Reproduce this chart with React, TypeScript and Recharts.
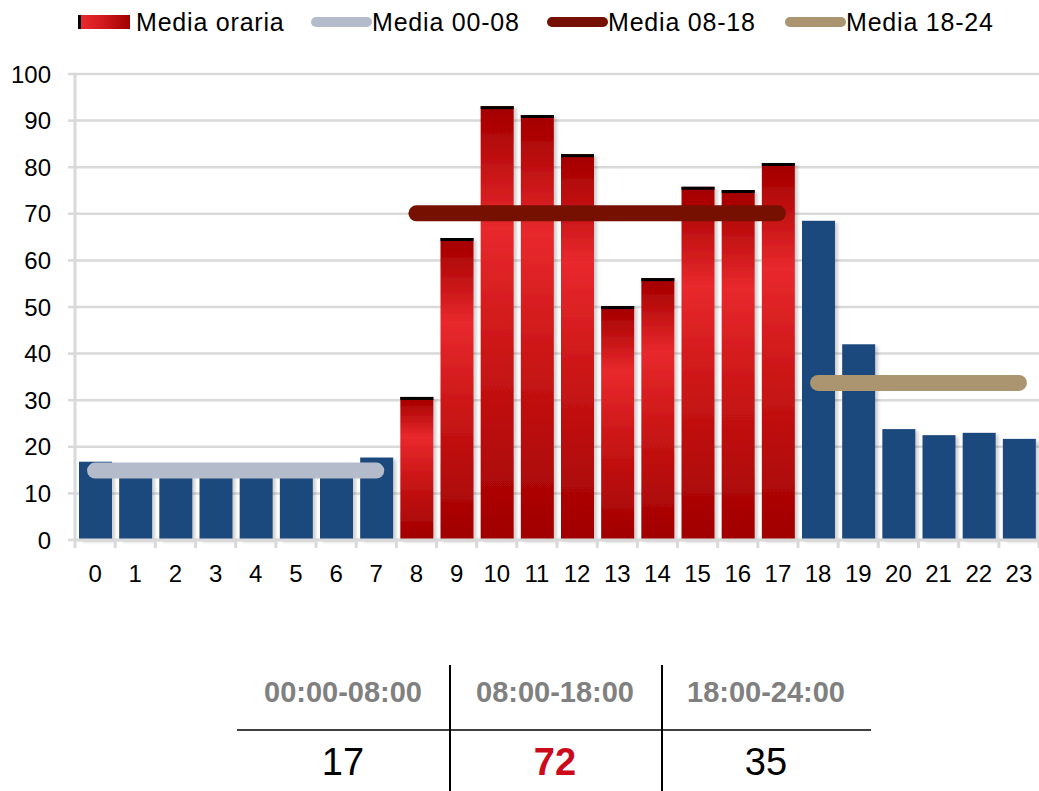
import React from "react"
import { Bar, CartesianGrid, ComposedChart, Line, XAxis, YAxis } from "recharts"

// hourly averages
const hours = [0, 1, 2, 3, 4, 5, 6, 7, 8, 9, 10, 11, 12, 13, 14, 15, 16, 17, 18, 19, 20, 21, 22, 23]
const hourlyValues = [
  16.8, 15.2, 14.8, 14.5, 14.6, 14.9, 15.3, 17.7, 30.7, 64.8, 93.1, 91.2, 82.8, 50.2, 56.2, 75.8, 75.1, 80.9,
  68.5, 42.0, 23.8, 22.5, 23.0, 21.7,
]
const bandMeans = [14.9, 70.1, 33.7]
const bandRanges = [
  [0, 7],
  [8, 17],
  [18, 23],
]
const legendNames = ["Media oraria", "Media 00-08", "Media 08-18", "Media 18-24"]
const tableHeaders = ["00:00-08:00", "08:00-18:00", "18:00-24:00"]
const tableValues = ["17", "72", "35"]
const yTicks = [0, 10, 20, 30, 40, 50, 60, 70, 80, 90, 100]

const BLUE = "#1f497d"
const LINE_COLORS = ["#b4bccb", "#761000", "#ab9570"]
const GRID = "#d9d9d9"
const FONT = "'Liberation Sans', Arial, sans-serif"

const CHART_W = 1039
const CHART_H = 600
const PLOT_LEFT = 75
const PLOT_BOTTOM = 540
const BAND = (CHART_W - PLOT_LEFT) / hours.length

const data = hours.map((h, i) => {
  const row: { [key: string]: any } = { hour: h, value: hourlyValues[i] }
  bandRanges.forEach(([a, b], k) => {
    row["m" + k] = h >= a && h <= b ? bandMeans[k] : null
  })
  return row
})

const isPeak = (h: number) => h >= 8 && h <= 17

const BarShape = (props: any) => {
  const { x, y, width, height, payload } = props
  if (height == null || height <= 0) return null
  if (!isPeak(payload.hour)) {
    return <rect x={x} y={y} width={width} height={height} fill={BLUE} filter="url(#barShadow)" />
  }
  return (
    <g filter="url(#barShadow)">
      <rect x={x} y={y} width={width} height={height} fill="url(#redBar)" />
      <rect x={x} y={y} width={width} height={3} fill="#000" />
    </g>
  )
}

const XTick = (props: any) => {
  const { x, payload, index } = props
  return (
    <g>
      <line x1={x - BAND / 2} x2={x - BAND / 2} y1={PLOT_BOTTOM} y2={PLOT_BOTTOM + 8} stroke={GRID} strokeWidth={3} />
      {index === hours.length - 1 && (
        <line x1={x + BAND / 2} x2={x + BAND / 2} y1={PLOT_BOTTOM} y2={PLOT_BOTTOM + 8} stroke={GRID} strokeWidth={3} />
      )}
      <text x={x} y={582} textAnchor="middle" fontSize={24} fill="#000" fontFamily={FONT}>
        {payload.value}
      </text>
    </g>
  )
}

function Legend() {
  const lefts = [78, 311, 547, 785]
  return (
    <>
      {legendNames.map((name, i) => (
        <div key={name} style={{ position: "absolute", top: 6, left: lefts[i], display: "flex", alignItems: "center", height: 32 }}>
          {i === 0 ? (
            <span
              style={{
                display: "inline-block",
                width: 52,
                height: 14,
                background: "linear-gradient(to right, #000 0, #000 3px, #e8292d 3px, #d41a1e 45%, #a00000 100%)",
                marginRight: 6,
              }}
            />
          ) : (
            <span
              style={{
                display: "inline-block",
                width: 61,
                height: 10,
                borderRadius: 5,
                background: LINE_COLORS[i - 1],
              }}
            />
          )}
          <span style={{ fontSize: 25, color: "#000", letterSpacing: 0.8 }}>{name}</span>
        </div>
      ))}
    </>
  )
}

function SummaryTable() {
  const cols = [237, 449, 661, 871]
  return (
    <>
      <div style={{ position: "absolute", left: cols[0], top: 729, width: cols[3] - cols[0], height: 2, background: "#404040" }} />
      <div style={{ position: "absolute", left: cols[1], top: 665, width: 1.5, height: 126, background: "#000" }} />
      <div style={{ position: "absolute", left: cols[2], top: 665, width: 1.5, height: 126, background: "#000" }} />
      {tableHeaders.map((h, i) => (
        <div
          key={h}
          style={{
            position: "absolute",
            left: cols[i],
            width: cols[i + 1] - cols[i],
            top: 676,
            textAlign: "center",
            fontSize: 29,
            fontWeight: "bold",
            color: "#808080",
          }}
        >
          {h}
        </div>
      ))}
      {tableValues.map((v, i) => (
        <div
          key={i}
          style={{
            position: "absolute",
            left: cols[i],
            width: cols[i + 1] - cols[i],
            top: 741,
            textAlign: "center",
            fontSize: 38,
            fontWeight: i === 1 ? "bold" : "normal",
            color: i === 1 ? "#cc0a1c" : "#000",
          }}
        >
          {v}
        </div>
      ))}
    </>
  )
}

export default function App() {
  return (
    <div
      style={{
        position: "absolute",
        left: 0,
        top: 0,
        width: 1039,
        height: 791,
        overflow: "hidden",
        background: "#fff",
        fontFamily: FONT,
      }}
    >
      <div style={{ position: "absolute", left: 0, top: 0 }}>
        <ComposedChart width={CHART_W} height={CHART_H} data={data} margin={{ top: 74, right: 0, left: 0, bottom: 0 }}>
          <defs>
            <linearGradient id="redBar" x1="0" y1="0" x2="0" y2="1">
              <stop offset="0%" stopColor="#a30000" />
              <stop offset="6%" stopColor="#b00606" />
              <stop offset="28%" stopColor="#e8292d" />
              <stop offset="60%" stopColor="#c81414" />
              <stop offset="100%" stopColor="#a00000" />
            </linearGradient>
            <filter id="barShadow" x="-20%" y="-5%" width="150%" height="115%">
              <feDropShadow dx={3} dy={2} stdDeviation={1.5} floodColor="#000" floodOpacity={0.18} />
            </filter>
          </defs>
          <CartesianGrid vertical={false} stroke={GRID} strokeWidth={2.5} />
          <XAxis
            dataKey="hour"
            height={60}
            axisLine={{ stroke: GRID, strokeWidth: 3 }}
            tickLine={false}
            tick={<XTick />}
            interval={0}
          />
          <YAxis
            width={PLOT_LEFT}
            domain={[0, 100]}
            ticks={yTicks}
            interval={0}
            axisLine={{ stroke: GRID, strokeWidth: 3 }}
            tickLine={{ stroke: GRID, strokeWidth: 2.5 }}
            tickSize={7}
            tickMargin={17}
            tick={{ fill: "#000", fontSize: 24, fontFamily: FONT }}
          />
          <Bar dataKey="value" barSize={33} shape={<BarShape />} isAnimationActive={false} />
          {bandMeans.map((_, k) => (
            <Line
              key={k}
              dataKey={"m" + k}
              type="linear"
              stroke={LINE_COLORS[k]}
              strokeWidth={16}
              strokeLinecap="round"
              dot={false}
              activeDot={false}
              connectNulls={false}
              isAnimationActive={false}
            />
          ))}
        </ComposedChart>
      </div>
      <Legend />
      <SummaryTable />
    </div>
  )
}
